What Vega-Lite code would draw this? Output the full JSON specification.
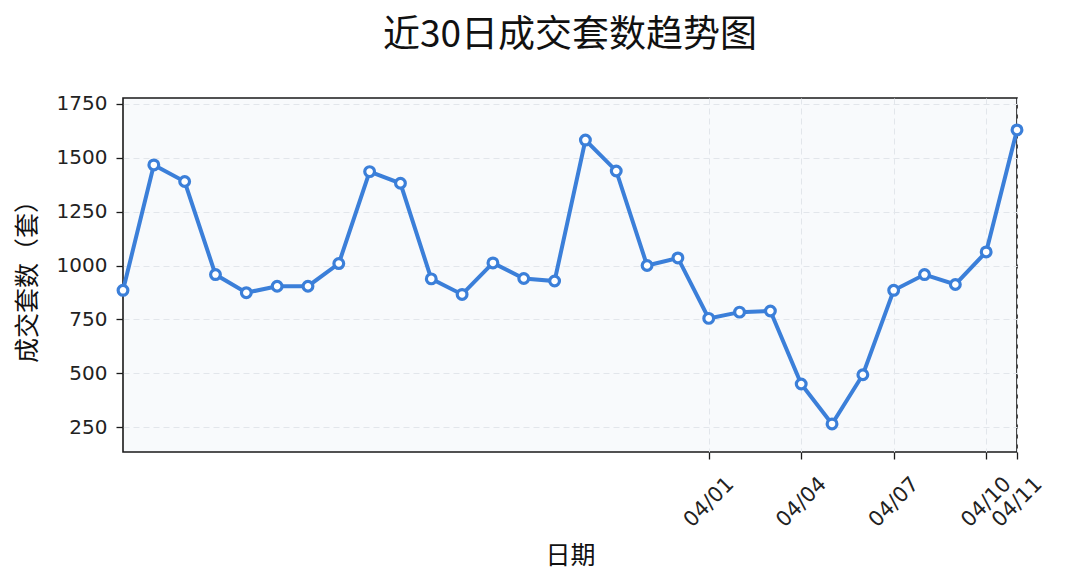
{
  "$schema": "https://vega.github.io/schema/vega-lite/v6.json",
  "width": 894,
  "height": 354,
  "autosize": {"type": "none"},
  "padding": {"left": 123, "top": 98, "right": 48, "bottom": 133},
  "background": "white",
  "title": {
    "text": "近30日成交套数趋势图",
    "font": "Noto Sans CJK SC",
    "fontSize": 37,
    "fontWeight": "normal",
    "color": "#111111",
    "anchor": "middle",
    "offset": 39
  },
  "config": {
    "view": {"fill": "#f8fafc", "stroke": "#1a1a1a", "strokeWidth": 1.6},
    "axis": {
      "labelFont": "DejaVu Sans",
      "labelFontSize": 20,
      "labelColor": "#222222",
      "tickColor": "#1a1a1a",
      "tickWidth": 1.3,
      "tickSize": 7,
      "domain": false,
      "grid": true,
      "gridColor": "#e2e6eb",
      "gridDash": [6, 4],
      "gridWidth": 1,
      "titleFont": "Noto Sans CJK SC",
      "titleFontSize": 25,
      "titleFontWeight": "normal",
      "titleColor": "#111111"
    }
  },
  "data": {
    "values": [
      {"date": "03/13", "count": 885},
      {"date": "03/14", "count": 1466},
      {"date": "03/15", "count": 1389},
      {"date": "03/16", "count": 958},
      {"date": "03/17", "count": 874},
      {"date": "03/18", "count": 904},
      {"date": "03/19", "count": 904},
      {"date": "03/20", "count": 1009},
      {"date": "03/21", "count": 1435},
      {"date": "03/22", "count": 1381},
      {"date": "03/23", "count": 938},
      {"date": "03/24", "count": 866},
      {"date": "03/25", "count": 1012},
      {"date": "03/26", "count": 940},
      {"date": "03/27", "count": 928},
      {"date": "03/28", "count": 1581},
      {"date": "03/29", "count": 1438},
      {"date": "03/30", "count": 1000},
      {"date": "03/31", "count": 1035},
      {"date": "04/01", "count": 755},
      {"date": "04/02", "count": 784},
      {"date": "04/03", "count": 789},
      {"date": "04/04", "count": 451},
      {"date": "04/05", "count": 266},
      {"date": "04/06", "count": 494},
      {"date": "04/07", "count": 885},
      {"date": "04/08", "count": 958},
      {"date": "04/09", "count": 912},
      {"date": "04/10", "count": 1063},
      {"date": "04/11", "count": 1628}
    ]
  },
  "mark": {
    "type": "line",
    "color": "#3b7fd9",
    "strokeWidth": 4,
    "point": {"filled": true, "fill": "white", "stroke": "#3b7fd9", "strokeWidth": 3.2, "size": 95}
  },
  "encoding": {
    "x": {
      "field": "date",
      "type": "ordinal",
      "sort": null,
      "scale": {"type": "point", "padding": 0},
      "axis": {
        "values": ["04/01", "04/04", "04/07", "04/10", "04/11"],
        "labelAngle": -45,
        "labelAlign": "center",
        "labelBaseline": "middle",
        "labelFontSize": 21,
        "labelPadding": 43,
        "title": "日期",
        "titlePadding": 13
      }
    },
    "y": {
      "field": "count",
      "type": "quantitative",
      "scale": {"domain": [136, 1776], "nice": false, "zero": false},
      "axis": {
        "values": [250, 500, 750, 1000, 1250, 1500, 1750],
        "format": "d",
        "labelPadding": 9,
        "title": "成交套数（套）",
        "titlePadding": 16
      }
    }
  }
}
